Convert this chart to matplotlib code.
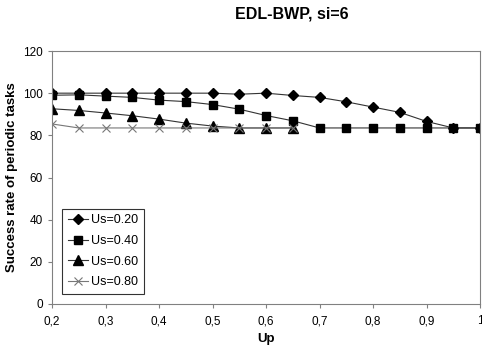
import matplotlib
matplotlib.use("Agg")
import matplotlib.pyplot as plt
import numpy as np

plt.rcParams['font.family'] = ['Liberation Sans', 'DejaVu Sans']

up = [0.2, 0.25, 0.3, 0.35, 0.4, 0.45, 0.5, 0.55, 0.6, 0.65, 0.7, 0.75, 0.8, 0.85, 0.9, 0.95, 1.0]
us020 = [100, 100, 100, 100, 100, 100, 100, 99.5, 100, 98.9, 98, 95.9, 93.4, 90.9, 86.6, 83.5, 83.5]
us040 = [99, 99.2, 98.6, 98, 96.7, 96, 94.6, 92.4, 89.4, 86.9, 83.5, 83.5, 83.5, 83.5, 83.5, 83.5, 83.5]
us060 = [92.6, 91.8, 90.6, 89.3, 87.7, 85.8, 84.4, 83.5, 83.5, 83.5]
us080 = [85.4, 83.5, 83.5, 83.5, 83.5, 83.5, 83.5, 83.5, 83.5, 83.5]
labels = ['Us=0.20', 'Us=0.40', 'Us=0.60', 'Us=0.80']
xticks = [0.2, 0.3, 0.4, 0.5, 0.6, 0.7, 0.8, 0.9, 1.0]
xticklabels = ['0,2', '0,3', '0,4', '0,5', '0,6', '0,7', '0,8', '0,9', '1']
yticks = [0, 20, 40, 60, 80, 100, 120]

fig = plt.figure(figsize=(4.82, 3.49), dpi=100)
ax = fig.add_axes([52/482, 1-304/349, 428/482, 253/349])

lc = '#333333'
ax.plot(up, us020, color=lc, lw=0.8, marker='D', ms=5, mfc='black', mec='black', label=labels[0])
ax.plot(up, us040, color=lc, lw=0.8, marker='s', ms=6, mfc='black', mec='black', label=labels[1])
ax.plot(up[:len(us060)], us060, color=lc, lw=0.8, marker='^', ms=7, mfc='black', mec='black', label=labels[2])
ax.plot(up[:len(us080)], us080, color='#777777', lw=0.8, marker='x', ms=6, mec='#777777', mew=0.8, label=labels[3])

ax.set_xlim(0.2, 1.0)
ax.set_ylim(0, 120)
ax.set_xticks(xticks)
ax.set_xticklabels(xticklabels)
ax.set_yticks(yticks)
ax.tick_params(axis='both', labelsize=8.5, direction='out', length=3, color='#808080', width=0.8)
ax.tick_params(axis='x', pad=5)
for s in ax.spines.values():
    s.set_color('#808080')
    s.set_linewidth(0.8)

ax.set_xlabel('Up', fontsize=9.5, fontweight='bold', labelpad=4)
ax.set_ylabel('Success rate of periodic tasks', fontsize=9.5, fontweight='bold', labelpad=4)
fig.text(292/482, 1-14/349, 'EDL-BWP, si=6', fontsize=11.5, fontweight='bold', ha='center', va='center')

leg = ax.legend(loc='lower left', bbox_to_anchor=(10/428, 10/253), fontsize=9, frameon=True,
                fancybox=False, edgecolor='black', handlelength=1.6, handletextpad=0.3,
                borderpad=0.45, labelspacing=0.7, borderaxespad=0)
leg.get_frame().set_linewidth(0.8)

fig.savefig('out.png', dpi=100)
